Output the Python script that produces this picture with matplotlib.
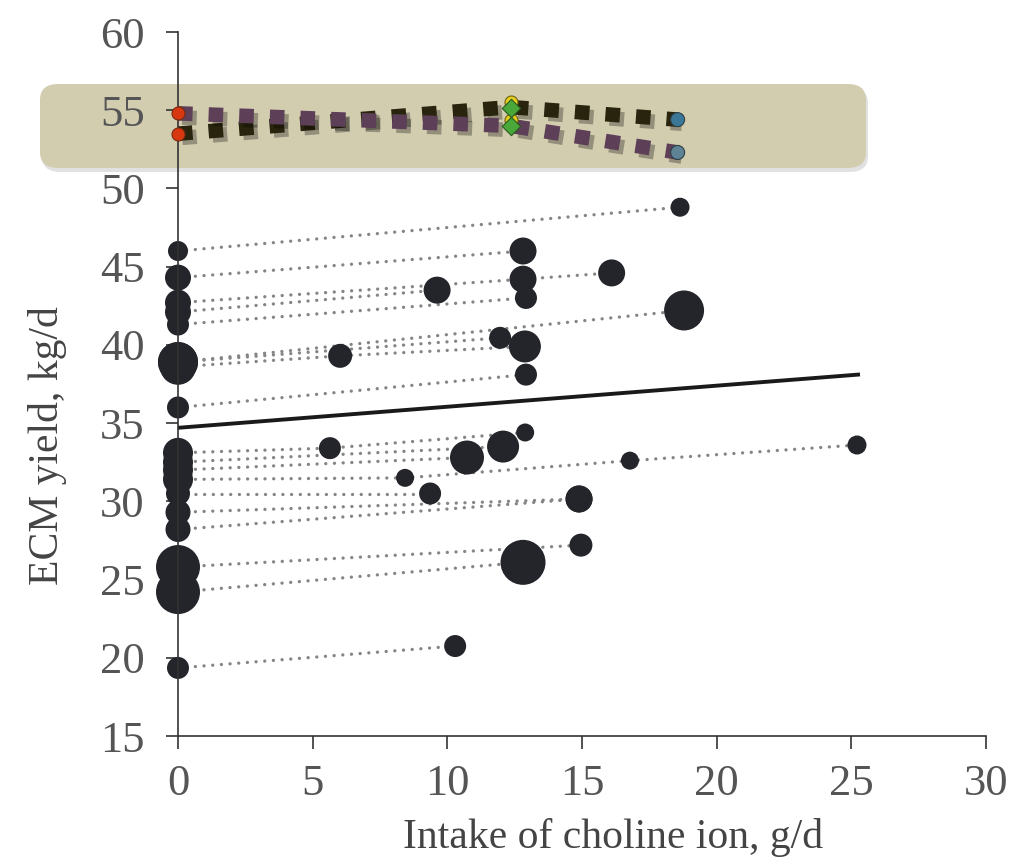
import numpy as np
import matplotlib
matplotlib.use("Agg")
import matplotlib.pyplot as plt
import matplotlib.patheffects as pe
from matplotlib.patches import FancyBboxPatch

plt.rcParams['font.family'] = ['Liberation Serif', 'DejaVu Serif']

# each study: list of (choline intake g/d, ECM kg/d, marker diameter px)
studies = [
    [(0, 46.0, 20), (18.64, 48.8, 19)],
    [(0, 44.3, 26), (12.81, 46.0, 27)],
    [(0, 42.7, 26), (12.81, 44.2, 27), (16.1, 44.6, 27)],
    [(0, 42.1, 26), (9.62, 43.5, 27)],
    [(0, 41.3, 22), (12.92, 43.0, 22)],
    [(0, 38.9, 40), (18.79, 42.2, 40)],
    [(0, 38.9, 40), (11.96, 40.45, 22)],
    [(0, 38.6, 36), (6.02, 39.3, 24), (12.88, 39.9, 32)],
    [(0, 36.0, 22), (12.92, 38.1, 22)],
    [(0, 33.1, 30), (5.64, 33.4, 22), (12.89, 34.4, 18)],
    [(0, 32.5, 30), (12.07, 33.5, 32)],
    [(0, 32.0, 30), (10.73, 32.8, 34)],
    [(0, 31.4, 30), (8.43, 31.5, 18), (16.78, 32.6, 18), (25.21, 33.6, 19)],
    [(0, 30.5, 24), (9.36, 30.5, 22)],
    [(0, 29.3, 25), (14.89, 30.15, 27)],
    [(0, 28.2, 25), (14.89, 30.15, 27)],
    [(0, 25.8, 44), (14.96, 27.2, 23)],
    [(0, 24.2, 44), (12.81, 26.1, 45)],
    [(0, 19.35, 22), (10.29, 20.75, 22)],
]

# overall regression line
reg_x = [0, 25.25]
reg_y = [34.7, 38.1]

# highlighted pair of trials
hi_x = [0, 12.35, 18.55]
hi_black_y = [53.5, 55.2, 54.4]
hi_purple_y = [54.8, 54.0, 52.3]
red_y = [54.8, 53.5]
yellow_y = [55.5, 54.4]
green_y = [55.15, 54.0]
blue_y = [54.4, 52.3]
blue_cols = ['#3b7897', '#5d8394']

fig = plt.figure(figsize=(10.18, 8.66), dpi=100)
W, H = 1018, 866

# shaded box behind the highlighted trials
shadow = FancyBboxPatch((42 / W, (H - 172) / H), 826 / W, 84 / H,
                        boxstyle="round,pad=0,rounding_size=0.018",
                        transform=fig.transFigure, fc='#c4c4c4', ec='none',
                        alpha=0.5, zorder=-2)
box = FancyBboxPatch((40 / W, (H - 168) / H), 826 / W, 84 / H,
                     boxstyle="round,pad=0,rounding_size=0.018",
                     transform=fig.transFigure, fc='#d3cdb0', ec='none',
                     zorder=-1)
fig.patches.extend([shadow, box])

ax = fig.add_axes([178 / W, 1 - 736 / H, 808 / W, 704 / H])
ax.patch.set_alpha(0)

dot_col = '#23252b'
for st in studies:
    xs = [p[0] for p in st]
    ys = [p[1] for p in st]
    ds = np.array([p[2] for p in st])
    ax.plot(xs, ys, color='#858585', lw=2.4, dashes=(0.01, 2.6),
            dash_capstyle='round', zorder=2)
    ax.scatter(xs, ys, s=(ds * 0.72) ** 2, color=dot_col, lw=0, zorder=3,
               clip_on=False)

ax.plot(reg_x, reg_y, color='#1a1a1a', lw=2.8, zorder=4)

shadow_fx = [pe.SimpleLineShadow(offset=(3, -3), shadow_color='k', alpha=0.3),
             pe.Normal()]
ax.plot(hi_x, hi_black_y, color='#29240e', lw=10.5, dashes=(1.0, 1.1),
        dash_capstyle='butt', path_effects=shadow_fx, zorder=5)
ax.plot(hi_x, hi_purple_y, color='#5e3f58', lw=10.5, dashes=(1.0, 1.1),
        dash_capstyle='butt', path_effects=shadow_fx, zorder=6)

ax.scatter([0, 0], red_y, s=(13 * 0.72) ** 2, color='#d7380f',
           edgecolor='#7a2a10', lw=0.8, zorder=8, clip_on=False)
ax.scatter([hi_x[1]] * 2, yellow_y, s=(13 * 0.72) ** 2, color='#e6cf1c',
           edgecolor='#6f6010', lw=0.8, zorder=8)
ax.scatter([hi_x[1]] * 2, green_y, s=(13 * 0.72) ** 2, marker='D',
           color='#4aa83a', edgecolor='#2a5a20', lw=0.8, zorder=9)
ax.scatter([hi_x[2]] * 2, blue_y, s=(14 * 0.72) ** 2, color=blue_cols,
           edgecolor='#2f3f48', lw=0.8, zorder=8)

ax.set_xlim(0, 30)
ax.set_ylim(15, 60)
ax.set_xticks(range(0, 31, 5))
ax.set_yticks(range(15, 61, 5))
for s in ['top', 'right']:
    ax.spines[s].set_visible(False)
for s in ['left', 'bottom']:
    ax.spines[s].set_color('#333333')
    ax.spines[s].set_linewidth(1.2)
    ax.spines[s].set_zorder(7)
ax.tick_params(axis='both', direction='out', length=9, width=1.2,
               color='#333333', labelsize=32, labelcolor='#555555')
ax.tick_params(axis='y', pad=15)
ax.tick_params(axis='x', pad=11)

ax.set_xlabel('Intake of choline ion, g/d', fontsize=30, color='#444444')
ax.set_ylabel('ECM yield, kg/d', fontsize=30, color='#444444')
ax.xaxis.set_label_coords(0.538, -0.117)
ax.yaxis.set_label_coords(-0.137, 0.413)

fig.savefig('out.png', dpi=100)
